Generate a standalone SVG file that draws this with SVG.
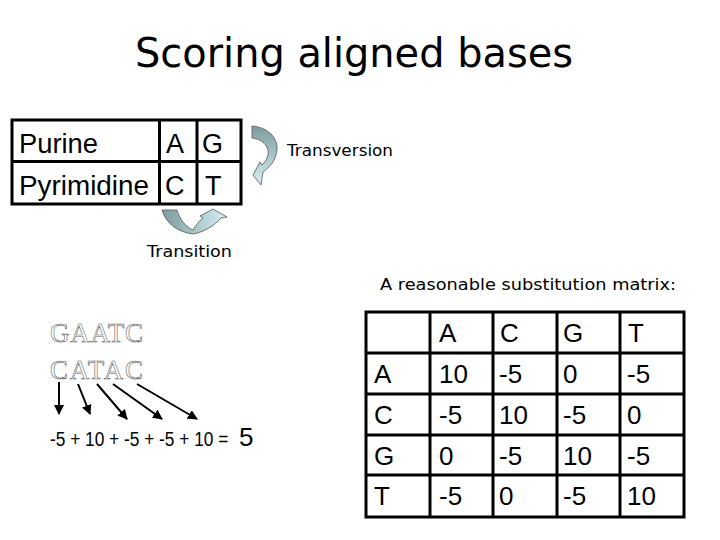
<svg xmlns="http://www.w3.org/2000/svg" width="720" height="540" viewBox="0 0 720 540">
<style>
.title{font-family:"DejaVu Sans","Liberation Sans",sans-serif;font-size:40px;fill:#000}
.lbl{font-family:"DejaVu Sans","Liberation Sans",sans-serif;font-size:15px;fill:#000}
.cell{font-family:"Liberation Sans",Arial,sans-serif;font-size:27px;fill:#000}
.mx{font-family:"Liberation Sans",Arial,sans-serif;font-size:26px;fill:#000}
.seq{font-family:"Liberation Serif","Times New Roman",serif;font-size:27px;fill:#fff;stroke:#666;stroke-width:0.6}
.sum{font-family:"Liberation Sans",Arial,sans-serif;font-size:17.3px;fill:#000}
.grid{fill:none;stroke:#000;stroke-width:3}
.conn{stroke:#000;stroke-width:2;fill:none}
.curve{stroke:#555;stroke-width:0.8}
</style>
<defs>
<marker id="ah" viewBox="0 0 10 10" refX="9" refY="5" markerWidth="5" markerHeight="5" orient="auto" markerUnits="strokeWidth">
<path d="M0,0 L10,5 L0,10 Z" fill="#000"/>
</marker>
<linearGradient id="gv" x1="0" y1="0" x2="0" y2="1">
<stop offset="0" stop-color="#7d9a9d"/>
<stop offset="1" stop-color="#d6f0f4"/>
</linearGradient>
<linearGradient id="gh" x1="0" y1="0" x2="1" y2="0">
<stop offset="0" stop-color="#7d9a9d"/>
<stop offset="1" stop-color="#d6f0f4"/>
</linearGradient>
</defs>
<rect width="720" height="540" fill="#fff"/>

<g id="title">
<text class="title" x="354" y="67" text-anchor="middle" textLength="438" lengthAdjust="spacingAndGlyphs">Scoring aligned bases</text>
</g>

<g id="base-table">
<rect class="grid" x="12" y="120" width="229" height="84"/>
<line class="grid" x1="12" y1="161.5" x2="241" y2="161.5"/>
<line class="grid" x1="159.5" y1="120" x2="159.5" y2="204"/>
<line class="grid" x1="197" y1="120" x2="197" y2="204"/>
<text class="cell" x="19" y="153" textLength="79" lengthAdjust="spacingAndGlyphs">Purine</text>
<text class="cell" x="19" y="195" textLength="130" lengthAdjust="spacingAndGlyphs">Pyrimidine</text>
<text class="cell" x="166" y="153">A</text>
<text class="cell" x="202" y="153">G</text>
<text class="cell" x="165" y="195">C</text>
<text class="cell" x="205" y="195">T</text>
</g>

<g id="transversion">
<path class="curve" fill="url(#gv)" d="M252,126 C267,127 278,137 277,150 C276,160 270,167 263,172 L261,185 L253,175 L260,162 L262,165 C267,160 269,155 268,150 C266,143 260,139 252,138 Z"/>
<text class="lbl" x="287" y="156" textLength="106" lengthAdjust="spacingAndGlyphs">Transversion</text>
</g>

<g id="transition">
<path class="curve" fill="url(#gh)" d="M162,210 L177,210 C180,220 186,227 193,230 C196,225 199,221 203,218 L200,216 L213,209 L227,217 L221,218 C214,226 204,232 193,234 C178,232 166,224 162,210 Z"/>
<text class="lbl" x="147" y="257" textLength="85" lengthAdjust="spacingAndGlyphs">Transition</text>
</g>

<g id="matrix-caption">
<text class="lbl" x="380" y="290" textLength="296" lengthAdjust="spacingAndGlyphs">A reasonable substitution matrix:</text>
</g>

<g id="matrix">
<rect class="grid" x="366" y="312" width="318" height="205"/>
<line class="grid" x1="366" y1="353" x2="684" y2="353"/>
<line class="grid" x1="366" y1="394" x2="684" y2="394"/>
<line class="grid" x1="366" y1="435" x2="684" y2="435"/>
<line class="grid" x1="366" y1="475" x2="684" y2="475"/>
<line class="grid" x1="430" y1="312" x2="430" y2="517"/>
<line class="grid" x1="493" y1="312" x2="493" y2="517"/>
<line class="grid" x1="557" y1="312" x2="557" y2="517"/>
<line class="grid" x1="620" y1="312" x2="620" y2="517"/>
<text class="mx" x="439" y="342">A</text>
<text class="mx" x="500" y="342">C</text>
<text class="mx" x="563" y="342">G</text>
<text class="mx" x="628" y="342">T</text>
<text class="mx" x="374" y="383">A</text>
<text class="mx" x="374" y="424">C</text>
<text class="mx" x="374" y="465">G</text>
<text class="mx" x="374" y="505">T</text>
<text class="mx" x="439" y="383">10</text>
<text class="mx" x="499" y="383">-5</text>
<text class="mx" x="563" y="383">0</text>
<text class="mx" x="627" y="383">-5</text>
<text class="mx" x="439" y="424">-5</text>
<text class="mx" x="499" y="424">10</text>
<text class="mx" x="563" y="424">-5</text>
<text class="mx" x="627" y="424">0</text>
<text class="mx" x="439" y="465">0</text>
<text class="mx" x="499" y="465">-5</text>
<text class="mx" x="563" y="465">10</text>
<text class="mx" x="627" y="465">-5</text>
<text class="mx" x="439" y="505">-5</text>
<text class="mx" x="499" y="505">0</text>
<text class="mx" x="563" y="505">-5</text>
<text class="mx" x="627" y="505">10</text>
</g>

<g id="alignment">
<text class="seq" x="50" y="342" textLength="93" lengthAdjust="spacing">GAATC</text>
<text class="seq" x="50" y="379" textLength="93" lengthAdjust="spacing">CATAC</text>
</g>

<g id="connectors">
<line class="conn" x1="59" y1="382" x2="59" y2="414" marker-end="url(#ah)"/>
<line class="conn" x1="78" y1="384" x2="90" y2="414" marker-end="url(#ah)"/>
<line class="conn" x1="97" y1="384" x2="127" y2="419" marker-end="url(#ah)"/>
<line class="conn" x1="113" y1="384" x2="162" y2="419" marker-end="url(#ah)"/>
<line class="conn" x1="137" y1="384" x2="197" y2="419" marker-end="url(#ah)"/>
</g>

<g id="score">
<text class="sum" transform="translate(50,446) scale(1,1.2)">-5 + 10 + -5 + -5 + 10 =</text>
<text class="mx" x="239" y="446">5</text>
</g>
</svg>
